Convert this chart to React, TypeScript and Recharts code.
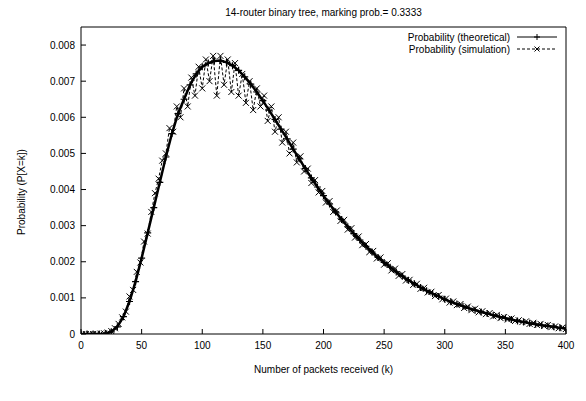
import React from 'react';
import { LineChart, Line, XAxis, YAxis, Customized } from 'recharts';

const theoK = [
  0, 5, 10, 15, 20, 25, 30, 35, 40, 45,
  50, 55, 60, 65, 70, 75, 80, 85, 90, 95,
  100, 105, 110, 115, 120, 125, 130, 135, 140, 145,
  150, 155, 160, 165, 170, 175, 180, 185, 190, 195,
  200, 205, 210, 215, 220, 225, 230, 235, 240, 245,
  250, 255, 260, 265, 270, 275, 280, 285, 290, 295,
  300, 305, 310, 315, 320, 325, 330, 335, 340, 345,
  350, 355, 360, 365, 370, 375, 380, 385, 390, 395,
  400,
];
const theoP = [
  0, 0, 0, 0.000002, 0.00001, 0.00006, 0.0002, 0.00048, 0.0009, 0.00145,
  0.0021, 0.0028, 0.0035, 0.0042, 0.0049, 0.00555, 0.0061, 0.0065, 0.0069, 0.0072,
  0.0074, 0.0075, 0.00756, 0.00757, 0.00752, 0.00743, 0.0073, 0.00712, 0.00692, 0.0067,
  0.00646, 0.0062, 0.00594, 0.00567, 0.0054, 0.00512, 0.00485, 0.00458, 0.00432, 0.00407,
  0.00383, 0.0036, 0.00338, 0.00317, 0.00297, 0.00278, 0.0026, 0.00243, 0.00227, 0.00212,
  0.00198, 0.00185, 0.00172, 0.0016, 0.00149, 0.00139, 0.00129, 0.0012, 0.00112, 0.00104,
  0.00096, 0.00089, 0.00083, 0.00077, 0.00071, 0.00066, 0.00061, 0.00057, 0.00052, 0.00048,
  0.00044, 0.0004, 0.00036, 0.00033, 0.0003, 0.00027, 0.00024, 0.00022, 0.0002, 0.00017,
  0.00015,
];

const simK = [
  1, 4, 7, 10, 13, 16, 19, 22, 25, 28,
  31, 34, 37, 40, 43, 46, 49, 52, 55, 58,
  61, 64, 67, 70, 73, 76, 79, 82, 85, 88,
  91, 94, 97, 100, 103, 106, 109, 112, 115, 118,
  121, 124, 127, 130, 133, 136, 139, 142, 145, 148,
  151, 154, 157, 160, 163, 166, 169, 172, 175, 178,
  181, 184, 187, 190, 193, 196, 199, 202, 205, 208,
  211, 214, 217, 220, 223, 226, 229, 232, 235, 238,
  241, 244, 247, 250, 253, 256, 259, 262, 265, 268,
  271, 274, 277, 280, 283, 286, 289, 292, 295, 298,
  301, 304, 307, 310, 313, 316, 319, 322, 325, 328,
  331, 334, 337, 340, 343, 346, 349, 352, 355, 358,
  361, 364, 367, 370, 373, 376, 379, 382, 385, 388,
  391, 394, 397, 400,
];
const simP = [
  0, 0, 0, 0, 0, 0.00001, 0.00002, 0.00004, 0.00008, 0.00016,
  0.00028, 0.00046, 0.00062, 0.00104, 0.00122, 0.00172, 0.00198, 0.00256, 0.00278, 0.00338,
  0.0039, 0.0043, 0.0048, 0.005, 0.0057, 0.0056, 0.0063, 0.006, 0.0068, 0.0063,
  0.0071, 0.0066, 0.0074, 0.0068, 0.0076, 0.007, 0.0077, 0.0066, 0.0077, 0.0069,
  0.0076, 0.0067, 0.0075, 0.0066, 0.0072, 0.0064, 0.007, 0.0062, 0.0068, 0.0063,
  0.0066, 0.0059, 0.0063, 0.0056, 0.006, 0.0053, 0.0056, 0.005, 0.0053, 0.00475,
  0.00492, 0.0045, 0.00458, 0.00418, 0.00426, 0.00392, 0.00396, 0.00364, 0.00368, 0.00338,
  0.00342, 0.00313, 0.00316, 0.00289, 0.00293, 0.00267, 0.0027, 0.00246, 0.00249, 0.00227,
  0.0023, 0.00209, 0.00212, 0.00192, 0.00196, 0.00176, 0.00181, 0.00161, 0.00166, 0.00148,
  0.0015, 0.00136, 0.00139, 0.00125, 0.00128, 0.00115, 0.00117, 0.00105, 0.00108, 0.00096,
  0.00098, 0.00087, 0.0009, 0.0008, 0.00083, 0.00072, 0.00076, 0.00066, 0.0007, 0.0006,
  0.00063, 0.00055, 0.00058, 0.00049, 0.00053, 0.00044, 0.00047, 0.0004, 0.00043, 0.00036,
  0.00038, 0.00033, 0.00035, 0.00028, 0.00031, 0.00025, 0.00028, 0.00022, 0.00025, 0.00019,
  0.00021, 0.00016, 0.00018, 0.00014,
];

const xTicks = [0, 50, 100, 150, 200, 250, 300, 350, 400];
const yTicks = [0, 0.001, 0.002, 0.003, 0.004, 0.005, 0.006, 0.007, 0.008];
const yTickLabels = ['0', '0.001', '0.002', '0.003', '0.004', '0.005', '0.006', '0.007', '0.008'];

const titleText = '14-router binary tree, marking prob.= 0.3333';
const xLabelText = 'Number of packets received (k)';
const yLabelText = 'Probability (P[X=k])';
const legendNames = ['Probability (theoretical)', 'Probability (simulation)'];

const theoData = theoK.map((k, i) => ({ k, p: theoP[i] }));
const simData = simK.map((k, i) => ({ k, p: simP[i] }));

const FONT = '"Liberation Sans", Arial, Helvetica, sans-serif';
const W = 586;
const H = 401;

const PlusDot = (props: any) => {
  const { cx, cy, index } = props;
  if (cx == null || cy == null) return <g key={`pd${index}`} />;
  return (
    <path
      key={`pd${index}`}
      d={`M${cx - 3.5},${cy}h7M${cx},${cy - 3.5}v7`}
      stroke="#000"
      strokeWidth={1.2}
      fill="none"
    />
  );
};

const CrossDot = (props: any) => {
  const { cx, cy, index } = props;
  if (cx == null || cy == null) return <g key={`cd${index}`} />;
  return (
    <path
      key={`cd${index}`}
      d={`M${cx - 3},${cy - 3}l6,6M${cx - 3},${cy + 3}l6,-6`}
      stroke="#000"
      strokeWidth={1}
      fill="none"
    />
  );
};

const Overlay = () => {
  const lx1 = 517;
  const lx2 = 557;
  const lm = (lx1 + lx2) / 2;
  const r1 = 37;
  const r2 = 49;
  return (
    <g fontFamily={FONT} fontSize={10} fill="#000">
      <text x={323.5} y={16} textAnchor="middle">{titleText}</text>
      <text x={323.5} y={373} textAnchor="middle">{xLabelText}</text>
      <text x={25} y={192} textAnchor="middle" transform="rotate(-90 25 192)">{yLabelText}</text>
      <text x={510} y={r1 + 3.5} textAnchor="end">{legendNames[0]}</text>
      <text x={510} y={r2 + 3.5} textAnchor="end">{legendNames[1]}</text>
      <line x1={lx1} y1={r1} x2={lx2} y2={r1} stroke="#000" strokeWidth={1} />
      <path d={`M${lm - 3},${r1}h6M${lm},${r1 - 3}v6`} stroke="#000" fill="none" />
      <line x1={lx1} y1={r2} x2={lx2} y2={r2} stroke="#000" strokeWidth={1} strokeDasharray="3 2" />
      <path d={`M${lm - 2.5},${r2 - 2.5}l5,5M${lm - 2.5},${r2 + 2.5}l5,-5`} stroke="#000" fill="none" />
    </g>
  );
};

const tickStyle = { fill: '#000', fontSize: 10, fontFamily: FONT };

export default function App() {
  return (
    <div style={{ position: 'absolute', left: 0, top: 0, width: W, height: H, background: '#fff' }}>
      <LineChart width={W} height={H} margin={{ top: 26, right: 19, bottom: 27, left: 21 }}>
        <XAxis
          xAxisId="bottom"
          dataKey="k"
          type="number"
          domain={[0, 400]}
          ticks={xTicks}
          allowDataOverflow
          height={40}
          tickSize={-5}
          tickMargin={13}
          tick={tickStyle}
          axisLine={{ stroke: '#000' }}
          tickLine={{ stroke: '#000' }}
        />
        <XAxis
          xAxisId="top"
          orientation="top"
          dataKey="k"
          type="number"
          domain={[0, 400]}
          ticks={xTicks}
          allowDataOverflow
          height={1}
          tickSize={-5}
          tick={false}
          axisLine={{ stroke: '#000' }}
          tickLine={{ stroke: '#000' }}
        />
        <YAxis
          yAxisId="left"
          type="number"
          domain={[0, 0.0085]}
          ticks={yTicks}
          allowDataOverflow
          width={60}
          tickSize={-5}
          tickMargin={11}
          tick={tickStyle}
          tickFormatter={(v: number) => yTickLabels[yTicks.indexOf(v)] ?? String(v)}
          axisLine={{ stroke: '#000' }}
          tickLine={{ stroke: '#000' }}
        />
        <YAxis
          yAxisId="right"
          orientation="right"
          type="number"
          domain={[0, 0.0085]}
          ticks={yTicks}
          allowDataOverflow
          width={1}
          tickSize={-5}
          tick={false}
          axisLine={{ stroke: '#000' }}
          tickLine={{ stroke: '#000' }}
        />
        <Line
          xAxisId="bottom"
          yAxisId="left"
          data={simData}
          dataKey="p"
          type="linear"
          stroke="#000"
          strokeWidth={1}
          strokeDasharray="3 2"
          dot={CrossDot}
          activeDot={false}
          isAnimationActive={false}
        />
        <Line
          xAxisId="bottom"
          yAxisId="left"
          data={theoData}
          dataKey="p"
          type="linear"
          stroke="#000"
          strokeWidth={2.5}
          dot={PlusDot}
          activeDot={false}
          isAnimationActive={false}
        />
        <Customized component={Overlay} />
      </LineChart>
    </div>
  );
}
